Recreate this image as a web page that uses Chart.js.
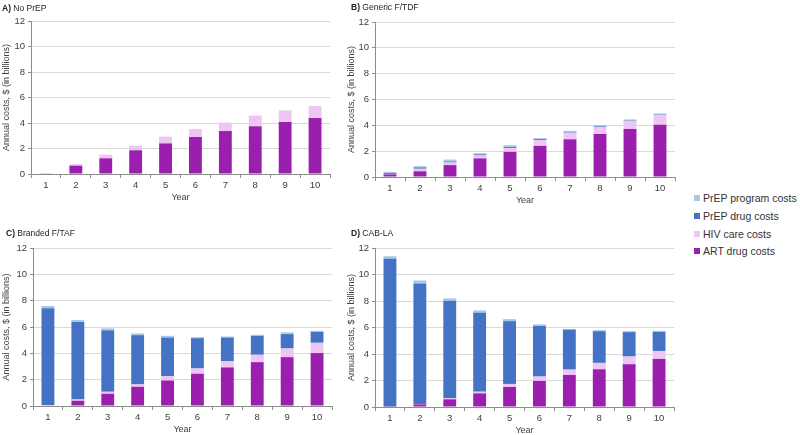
<!DOCTYPE html>
<html>
<head>
<meta charset="utf-8">
<script src="https://cdn.jsdelivr.net/npm/chart.js@4.4.1/dist/chart.umd.min.js"></script>
<style>
  html, body { margin: 0; padding: 0; background: #ffffff; }
  body { width: 800px; height: 435px; position: relative; overflow: hidden; font-family: "Liberation Sans", Arial, sans-serif; }
  canvas { position: absolute; }
  .ptitle { position: absolute; font-size: 8.5px; color: #222; white-space: nowrap; line-height: 10px; z-index: 2; }
  .legend { position: absolute; left: 694px; top: 190px; font-size: 10.5px; color: #333; z-index: 2; }
  .legend div { height: 17.8px; line-height: 17.8px; white-space: nowrap; }
  .legend span.sw { display: inline-block; width: 6px; height: 6px; margin-right: 3px; vertical-align: 1px; }
</style>
</head>
<body>
<div class="ptitle" style="left:2px; top:3px;"><b>A)</b> No PrEP</div>
<div class="ptitle" style="left:351px; top:2px;"><b>B)</b> Generic F/TDF</div>
<div class="ptitle" style="left:6px; top:228px;"><b>C)</b> Branded F/TAF</div>
<div class="ptitle" style="left:351px; top:228px;"><b>D)</b> CAB-LA</div>
<div class="legend" id="legend"></div>

<canvas id="cA" width="340" height="204" style="left:0px; top:0px;"></canvas>
<canvas id="cB" width="340" height="207" style="left:345px; top:0px;"></canvas>
<canvas id="cC" width="342" height="221" style="left:0px; top:215px;"></canvas>
<canvas id="cD" width="340" height="222" style="left:345px; top:215px;"></canvas>

<script>
// ---- Data (values in $ billions) ----
const years = ['1','2','3','4','5','6','7','8','9','10'];
const seriesNames = ['ART drug costs', 'HIV care costs', 'PrEP drug costs', 'PrEP program costs'];
const yTicks = [0, 2, 4, 6, 8, 10, 12];

// A) No PrEP
const artA  = [0.05, 0.65, 1.23, 1.86, 2.40, 2.90, 3.37, 3.74, 4.08, 4.39];
const hivA  = [0.01, 0.13, 0.29, 0.36, 0.53, 0.63, 0.66, 0.84, 0.91, 0.94];
const drugA = [0, 0, 0, 0, 0, 0, 0, 0, 0, 0];
const progA = [0, 0, 0, 0, 0, 0, 0, 0, 0, 0];

// B) Generic F/TDF
const artB  = [0.20, 0.44, 0.92, 1.44, 1.95, 2.41, 2.92, 3.33, 3.72, 4.05];
const hivB  = [0.02, 0.20, 0.20, 0.23, 0.30, 0.44, 0.51, 0.54, 0.59, 0.74];
const drugB = [0.08, 0.10, 0.08, 0.08, 0.08, 0.08, 0.05, 0.05, 0.05, 0.03];
const progB = [0.10, 0.10, 0.15, 0.10, 0.13, 0.08, 0.10, 0.10, 0.10, 0.10];

// C) Branded F/TAF
const artC  = [0.05, 0.40, 0.93, 1.46, 1.94, 2.45, 2.93, 3.33, 3.71, 4.02];
const hivC  = [0.02, 0.10, 0.15, 0.18, 0.33, 0.40, 0.48, 0.56, 0.66, 0.78];
const drugC = [7.35, 5.88, 4.67, 3.74, 2.93, 2.30, 1.79, 1.44, 1.09, 0.83];
const progC = [0.18, 0.15, 0.15, 0.13, 0.13, 0.08, 0.08, 0.08, 0.13, 0.08];

// D) CAB-LA
const artD  = [0.02, 0.20, 0.58, 1.03, 1.51, 1.97, 2.42, 2.85, 3.23, 3.63];
const hivD  = [0.01, 0.03, 0.10, 0.13, 0.23, 0.33, 0.40, 0.48, 0.58, 0.60];
const drugD = [11.15, 9.10, 7.34, 5.95, 4.74, 3.81, 3.02, 2.39, 1.84, 1.44];
const progD = [0.20, 0.22, 0.18, 0.18, 0.15, 0.13, 0.05, 0.08, 0.08, 0.08];

// ---- Styles ----
const colors = ['#9b1fae', '#efc5f3', '#4472c4', '#a9c7e9'];
const axisGray = '#8c8c8c';
const gridGray = '#d9d9d9';
const textGray = '#404040';
const fontFam = '"Liberation Sans", Arial, sans-serif';

// Legend (top to bottom: program, drug, HIV care, ART)
const legendEl = document.getElementById('legend');
[3, 2, 1, 0].forEach(i => {
  const row = document.createElement('div');
  const sw = document.createElement('span');
  sw.className = 'sw';
  sw.style.background = colors[i];
  row.appendChild(sw);
  row.appendChild(document.createTextNode(seriesNames[i]));
  legendEl.appendChild(row);
});

function makeChart(id, art, hiv, drug, prog, yWidth, xHeight, padTop, padRight, yTitlePad) {
  const data = [art, hiv, drug, prog];
  return new Chart(document.getElementById(id), {
    type: 'bar',
    data: {
      labels: years,
      datasets: data.map((d, i) => ({
        label: seriesNames[i],
        data: d,
        backgroundColor: colors[i],
        borderWidth: 0,
        barPercentage: 0.43,
        categoryPercentage: 1.0
      }))
    },
    options: {
      responsive: false,
      animation: false,
      devicePixelRatio: 1,
      layout: { padding: { top: padTop, right: padRight, left: 0, bottom: 0 } },
      plugins: { legend: { display: false }, tooltip: { enabled: false }, title: { display: false } },
      scales: {
        x: {
          stacked: true,
          grid: { offset: true, drawOnChartArea: false, drawTicks: true, tickLength: 4, tickColor: axisGray, color: axisGray },
          border: { color: axisGray, width: 1 },
          ticks: { color: textGray, font: { family: fontFam, size: 9.5 }, padding: 2, maxRotation: 0 },
          title: { display: true, text: 'Year', color: textGray, font: { family: fontFam, size: 9 }, padding: { top: 0, bottom: 1.5 } },
          afterFit: s => { s.height = xHeight; }
        },
        y: {
          stacked: true,
          min: 0, max: 12,
          afterBuildTicks: s => { s.ticks = yTicks.map(v => ({ value: v })); },
          grid: { color: gridGray, tickColor: axisGray, tickLength: 3, drawTicks: true },
          border: { color: axisGray, width: 1 },
          ticks: { color: textGray, font: { family: fontFam, size: 9.5 }, padding: 3 },
          title: { display: true, text: 'Annual costs, $ (in billions)', color: textGray, font: { family: fontFam, size: 9 }, padding: { top: yTitlePad, bottom: 0 } },
          afterFit: s => { s.width = yWidth; }
        }
      }
    }
  });
}

makeChart('cA', artA, hivA, drugA, progA, 31, 30, 21, 10, 1.5);
makeChart('cB', artB, hivB, drugB, progB, 30, 30, 22, 10, 1);
makeChart('cC', artC, hivC, drugC, progC, 33, 30, 33, 10, 1.5);
makeChart('cD', artD, hivD, drugD, progD, 30, 30, 33, 11, 1);
</script>
</body>
</html>
